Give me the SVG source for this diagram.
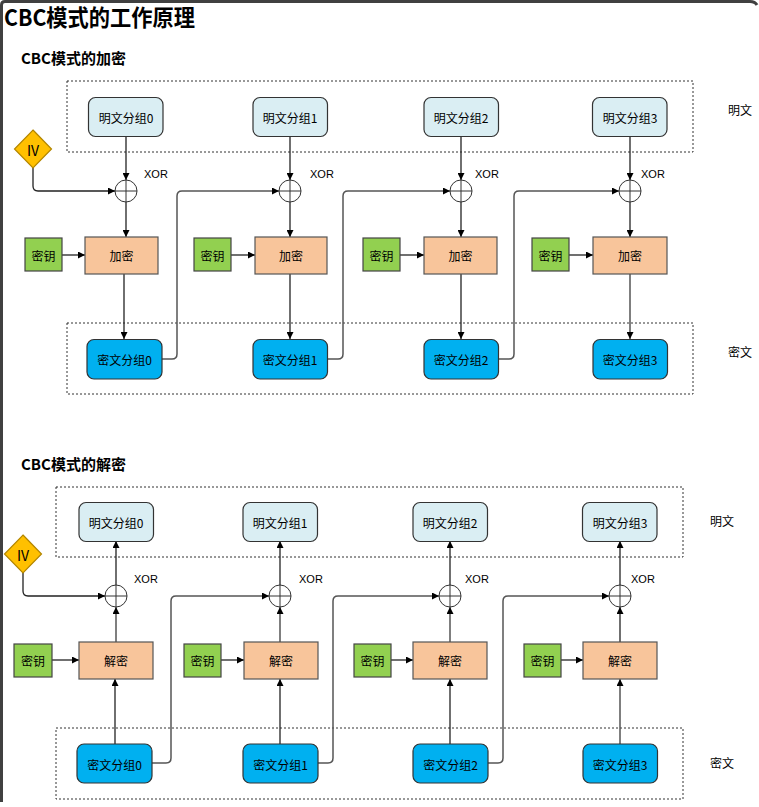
<svg xmlns="http://www.w3.org/2000/svg" width="759" height="807" viewBox="0 0 759 807">
<defs>
<style>
text{font-family:"Noto Sans CJK SC","Noto Sans",sans-serif;fill:#000}
.t{font-size:12px;text-anchor:middle;dominant-baseline:central}
.x{font-family:"Liberation Sans",Arial,sans-serif;font-size:11px}
.lab{font-size:12px}
.plain{fill:#DAEEF3;stroke:#333;stroke-width:1.2}
.ciph{fill:#00B0F0;stroke:#333;stroke-width:1.2}
.enc{fill:#F8C59B;stroke:#555;stroke-width:1.2}
.key{fill:#92D050;stroke:#444;stroke-width:1.2}
.iv{fill:#FFC000;stroke:#B38600;stroke-width:1.2}
.grp{fill:none;stroke:#333;stroke-width:1;stroke-dasharray:2 2}
.xor{fill:#fff;stroke:#333;stroke-width:1}
.c{fill:none;stroke:#222;stroke-width:1.3;marker-end:url(#ah)}
.g{fill:none;stroke:#555;stroke-width:1.5;marker-end:url(#ah)}
</style>
<marker id="ah" viewBox="0 0 10 10" refX="10" refY="5" markerWidth="7" markerHeight="7" markerUnits="userSpaceOnUse" orient="auto"><path d="M0,0 L10,5 L0,10 z" fill="#000"/></marker>
</defs>
<rect width="759" height="807" fill="#fff"/>
<path d="M1.5,802 V5 Q1.5,1.5 5,1.5 H750 Q755,1.5 757,5" fill="none" stroke="#404040" stroke-width="3"/>
<text x="4" y="26" textLength="191" lengthAdjust="spacingAndGlyphs" style="font-size:23px;font-weight:bold">CBC模式的工作原理</text>
<text x="21" y="64" style="font-size:15px;font-weight:bold">CBC模式的加密</text>
<text x="21" y="470" style="font-size:15px;font-weight:bold">CBC模式的解密</text>

<!-- group frames -->
<g id="enc-plain-frame"><rect class="grp" x="67" y="81" width="626" height="71"/><text class="lab" x="728" y="115">明文</text></g>
<g id="enc-cipher-frame"><rect class="grp" x="67" y="323" width="626" height="71"/><text class="lab" x="728" y="357">密文</text></g>
<g id="dec-plain-frame"><rect class="grp" x="56" y="487" width="627" height="70"/><text class="lab" x="710" y="526">明文</text></g>
<g id="dec-cipher-frame"><rect class="grp" x="56" y="728" width="627" height="71"/><text class="lab" x="710" y="768">密文</text></g>

<!-- connectors -->
<g id="connectors">
<!-- encryption -->
<path class="c" d="M33,168 V186 Q33,191 38,191 H115"/>
<path class="c" d="M126,136 V180"/><path class="c" d="M126,202 V237"/><path class="c" d="M124,274 V339"/>
<path class="c" d="M290,136 V180"/><path class="c" d="M290,202 V237"/><path class="c" d="M290,274 V339"/>
<path class="c" d="M461,136 V180"/><path class="c" d="M461,202 V237"/><path class="c" d="M461,274 V339"/>
<path class="c" d="M630,136 V180"/><path class="c" d="M630,202 V237"/><path class="g" d="M630,274 V339"/>
<path class="c" d="M62,255 H85"/><path class="c" d="M231,255 H255"/><path class="c" d="M400,255 H424"/><path class="c" d="M569,255 H593"/>
<path class="g" d="M162,359 H172 Q177,359 177,354 V196 Q177,191 182,191 H279"/>
<path class="g" d="M327,359 H338 Q343,359 343,354 V196 Q343,191 348,191 H450"/>
<path class="g" d="M498,359 H509 Q514,359 514,354 V196 Q514,191 519,191 H619"/>
<!-- decryption -->
<path class="c" d="M23,573 V591 Q23,596 28,596 H105"/>
<path class="c" d="M115,744 V679"/><path class="g" d="M116,642 V607"/><path class="c" d="M116,585 V541"/>
<path class="c" d="M280,744 V679"/><path class="g" d="M280,642 V607"/><path class="c" d="M280,585 V541"/>
<path class="c" d="M450,744 V679"/><path class="g" d="M450,642 V607"/><path class="c" d="M450,585 V541"/>
<path class="g" d="M620,744 V679"/><path class="c" d="M620,642 V607"/><path class="c" d="M620,585 V541"/>
<path class="c" d="M52,660 H79"/><path class="c" d="M221,660 H244"/><path class="c" d="M391,660 H413"/><path class="c" d="M561,660 H583"/>
<path class="g" d="M152,763 H166 Q171,763 171,758 V601 Q171,596 176,596 H269"/>
<path class="g" d="M318,763 H328 Q333,763 333,758 V601 Q333,596 338,596 H439"/>
<path class="g" d="M488,763 H498 Q503,763 503,758 V601 Q503,596 508,596 H609"/>
</g>

<!-- encryption nodes -->
<g id="enc-iv"><path class="iv" d="M33,130 L51.5,149 L33,168 L14.5,149 z"/><text x="33" y="150" style="font-size:14px;text-anchor:middle;dominant-baseline:central">IV</text></g>
<g id="enc-p0"><rect class="plain" x="88.5" y="97.5" width="74.5" height="39" rx="7"/><text class="t" x="126" y="117">明文分组0</text></g>
<g id="enc-p1"><rect class="plain" x="253" y="97.5" width="74.5" height="39" rx="7"/><text class="t" x="290" y="117">明文分组1</text></g>
<g id="enc-p2"><rect class="plain" x="424" y="97.5" width="74.5" height="39" rx="7"/><text class="t" x="461" y="117">明文分组2</text></g>
<g id="enc-p3"><rect class="plain" x="592.5" y="97.5" width="74.5" height="39" rx="7"/><text class="t" x="630" y="117">明文分组3</text></g>

<g id="enc-x0"><circle class="xor" cx="126" cy="191" r="11"/><path d="M115,191 H137 M126,180 V202" stroke="#333" stroke-width="1"/><text class="x" x="144" y="178">XOR</text></g>
<g id="enc-x1"><circle class="xor" cx="290" cy="191" r="11"/><path d="M279,191 H301 M290,180 V202" stroke="#333" stroke-width="1"/><text class="x" x="310" y="178">XOR</text></g>
<g id="enc-x2"><circle class="xor" cx="461" cy="191" r="11"/><path d="M450,191 H472 M461,180 V202" stroke="#333" stroke-width="1"/><text class="x" x="475" y="178">XOR</text></g>
<g id="enc-x3"><circle class="xor" cx="630" cy="191" r="11"/><path d="M619,191 H641 M630,180 V202" stroke="#333" stroke-width="1"/><text class="x" x="641" y="178">XOR</text></g>

<g id="enc-k0"><rect class="key" x="25" y="238" width="37" height="33"/><text class="t" x="43.5" y="255">密钥</text></g>
<g id="enc-k1"><rect class="key" x="194" y="238" width="37" height="33"/><text class="t" x="212.5" y="255">密钥</text></g>
<g id="enc-k2"><rect class="key" x="363" y="238" width="37" height="33"/><text class="t" x="381.5" y="255">密钥</text></g>
<g id="enc-k3"><rect class="key" x="532" y="238" width="37" height="33"/><text class="t" x="550.5" y="255">密钥</text></g>

<g id="enc-e0"><rect class="enc" x="85" y="237" width="73" height="37"/><text class="t" x="121.5" y="255">加密</text></g>
<g id="enc-e1"><rect class="enc" x="255" y="237" width="72" height="37"/><text class="t" x="291" y="255">加密</text></g>
<g id="enc-e2"><rect class="enc" x="424" y="237" width="73" height="37"/><text class="t" x="460.5" y="255">加密</text></g>
<g id="enc-e3"><rect class="enc" x="593" y="237" width="74" height="37"/><text class="t" x="630" y="255">加密</text></g>

<g id="enc-c0"><rect class="ciph" x="87" y="339.5" width="75" height="39.5" rx="7"/><text class="t" x="124.5" y="359">密文分组0</text></g>
<g id="enc-c1"><rect class="ciph" x="253" y="339.5" width="74.5" height="39.5" rx="7"/><text class="t" x="290" y="359">密文分组1</text></g>
<g id="enc-c2"><rect class="ciph" x="424" y="339.5" width="74.5" height="39.5" rx="7"/><text class="t" x="461" y="359">密文分组2</text></g>
<g id="enc-c3"><rect class="ciph" x="593" y="339.5" width="74.5" height="39.5" rx="7"/><text class="t" x="630" y="359">密文分组3</text></g>

<!-- decryption nodes -->
<g id="dec-iv"><path class="iv" d="M23,535 L41.5,554 L23,573 L4.5,554 z"/><text x="23" y="555" style="font-size:14px;text-anchor:middle;dominant-baseline:central">IV</text></g>
<g id="dec-p0"><rect class="plain" x="79" y="502.5" width="74.5" height="39" rx="7"/><text class="t" x="116" y="522">明文分组0</text></g>
<g id="dec-p1"><rect class="plain" x="243" y="502.5" width="74.5" height="39" rx="7"/><text class="t" x="280" y="522">明文分组1</text></g>
<g id="dec-p2"><rect class="plain" x="413" y="502.5" width="74.5" height="39" rx="7"/><text class="t" x="450" y="522">明文分组2</text></g>
<g id="dec-p3"><rect class="plain" x="582.5" y="502.5" width="74.5" height="39" rx="7"/><text class="t" x="620" y="522">明文分组3</text></g>

<g id="dec-x0"><circle class="xor" cx="116" cy="596" r="11"/><path d="M105,596 H127 M116,585 V607" stroke="#333" stroke-width="1"/><text class="x" x="134" y="583">XOR</text></g>
<g id="dec-x1"><circle class="xor" cx="280" cy="596" r="11"/><path d="M269,596 H291 M280,585 V607" stroke="#333" stroke-width="1"/><text class="x" x="299" y="583">XOR</text></g>
<g id="dec-x2"><circle class="xor" cx="450" cy="596" r="11"/><path d="M439,596 H461 M450,585 V607" stroke="#333" stroke-width="1"/><text class="x" x="465" y="583">XOR</text></g>
<g id="dec-x3"><circle class="xor" cx="620" cy="596" r="11"/><path d="M609,596 H631 M620,585 V607" stroke="#333" stroke-width="1"/><text class="x" x="631" y="583">XOR</text></g>

<g id="dec-k0"><rect class="key" x="14" y="644" width="38" height="33"/><text class="t" x="33" y="660">密钥</text></g>
<g id="dec-k1"><rect class="key" x="184" y="644" width="37" height="33"/><text class="t" x="202.5" y="660">密钥</text></g>
<g id="dec-k2"><rect class="key" x="354" y="644" width="37" height="33"/><text class="t" x="372.5" y="660">密钥</text></g>
<g id="dec-k3"><rect class="key" x="524" y="644" width="37" height="33"/><text class="t" x="542.5" y="660">密钥</text></g>

<g id="dec-d0"><rect class="enc" x="79" y="642" width="74" height="37"/><text class="t" x="116" y="660">解密</text></g>
<g id="dec-d1"><rect class="enc" x="244" y="642" width="74" height="37"/><text class="t" x="281" y="660">解密</text></g>
<g id="dec-d2"><rect class="enc" x="413" y="642" width="74" height="37"/><text class="t" x="450" y="660">解密</text></g>
<g id="dec-d3"><rect class="enc" x="583" y="642" width="74" height="37"/><text class="t" x="620" y="660">解密</text></g>

<g id="dec-c0"><rect class="ciph" x="77" y="744" width="75" height="39" rx="7"/><text class="t" x="114.5" y="764">密文分组0</text></g>
<g id="dec-c1"><rect class="ciph" x="243" y="744" width="75" height="39" rx="7"/><text class="t" x="280.5" y="764">密文分组1</text></g>
<g id="dec-c2"><rect class="ciph" x="413" y="744" width="75" height="39" rx="7"/><text class="t" x="450.5" y="764">密文分组2</text></g>
<g id="dec-c3"><rect class="ciph" x="583" y="744" width="74.5" height="39" rx="7"/><text class="t" x="620" y="764">密文分组3</text></g>
</svg>
